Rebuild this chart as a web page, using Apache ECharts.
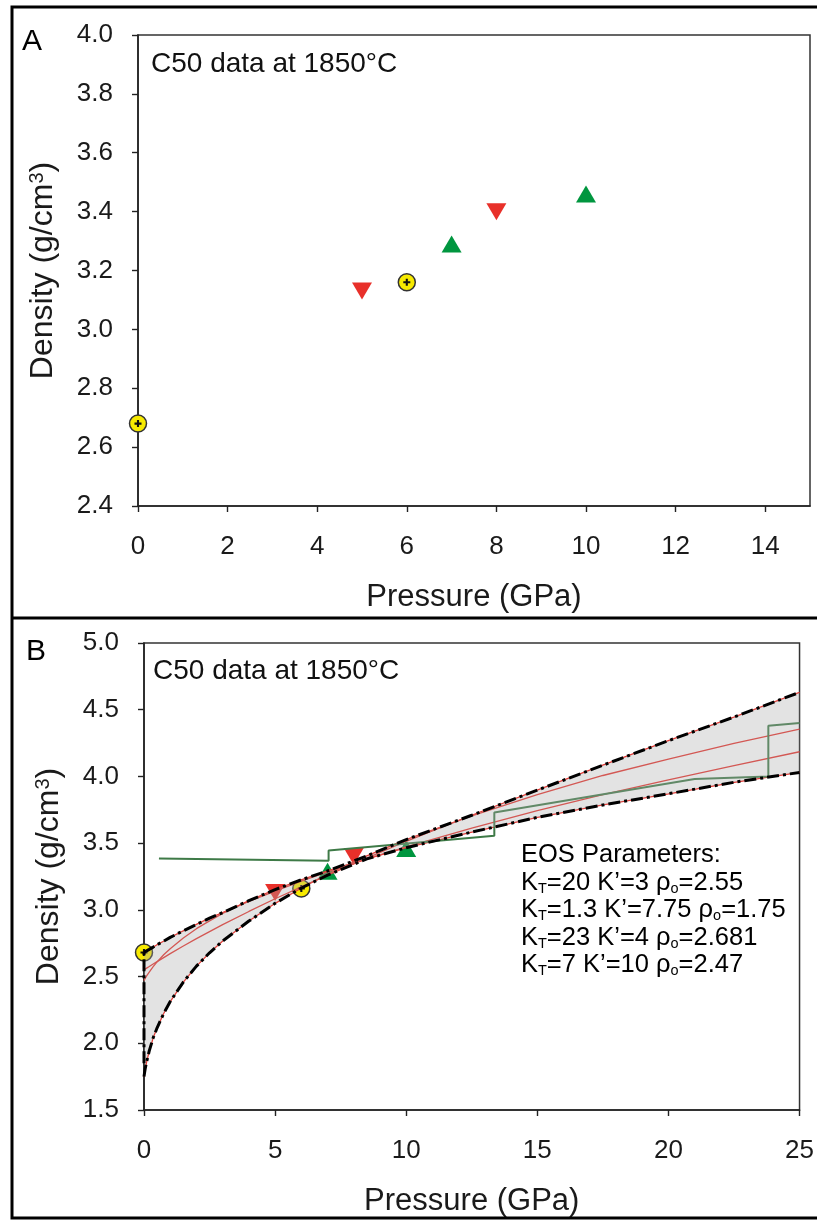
<!DOCTYPE html>
<html>
<head>
<meta charset="utf-8">
<script src="https://cdn.jsdelivr.net/npm/echarts@6/dist/echarts.min.js"></script>
<style>
  html, body { margin: 0; padding: 0; background: #fff; }
  #chart { width: 817px; height: 1220px; }
</style>
</head>
<body>
<div id="chart"></div>
<script>
// measured points (same data in both panels)
var circP = [0, 6];
var circRho = [2.68, 3.16];
var downP = [5, 8];
var downRho = [3.13, 3.40];
var upP = [7, 10];
var upRho = [3.29, 3.46];

// EOS curves
var eosP = [0, 0.02, 0.05, 0.1, 0.2, 0.35, 0.5, 0.75, 1, 1.5, 2, 2.5, 3, 4, 5, 6, 7, 8.5, 10, 12.5, 15, 17.5, 20, 22.5, 25];
var eosK20 = [2.55, 2.553, 2.556, 2.563, 2.575, 2.594, 2.612, 2.642, 2.672, 2.729, 2.784, 2.837, 2.889, 2.988, 3.083, 3.172, 3.260, 3.388, 3.514, 3.709, 3.897, 4.084, 4.268, 4.445, 4.63];
var eosK13 = [1.75, 1.777, 1.814, 1.861, 1.943, 2.041, 2.116, 2.223, 2.313, 2.459, 2.578, 2.678, 2.767, 2.916, 3.049, 3.164, 3.268, 3.404, 3.527, 3.705, 3.863, 4.007, 4.130, 4.248, 4.354];
var eosK23 = [2.681, 2.683, 2.687, 2.693, 2.704, 2.721, 2.739, 2.765, 2.794, 2.843, 2.891, 2.938, 2.979, 3.063, 3.141, 3.215, 3.284, 3.382, 3.472, 3.612, 3.744, 3.863, 3.974, 4.081, 4.185];
var eosK7 = [2.47, 2.477, 2.488, 2.505, 2.533, 2.574, 2.610, 2.664, 2.709, 2.789, 2.859, 2.917, 2.974, 3.069, 3.152, 3.225, 3.292, 3.383, 3.466, 3.583, 3.693, 3.786, 3.870, 3.956, 4.03];

// green step line
var stepP = [0.57, 7.04, 7.04, 13.36, 13.36, 21.0, 23.81, 23.81, 25];
var stepRho = [3.385, 3.368, 3.445, 3.555, 3.73, 3.98, 4.0, 4.38, 4.40];

var eosLines = [
  'EOS Parameters:',
  ['20', '3', '2.55'],
  ['1.3', '7.75', '1.75'],
  ['23', '4', '2.681'],
  ['7', '10', '2.47']
];

var FONT = 'Liberation Sans, Arial, sans-serif';
var YELLOW = '#f7ea00', RED = '#e8302a', GREEN = '#00963f';

function pair(xs, ys) {
  return xs.map(function (x, i) { return [x, ys[i]]; });
}

var upper = eosP.map(function (p, i) { return Math.max(eosK20[i], eosK13[i], eosK23[i], eosK7[i]); });
var lower = eosP.map(function (p, i) { return Math.min(eosK20[i], eosK13[i], eosK23[i], eosK7[i]); });

var myChart = echarts.init(document.getElementById('chart'));

function markers(ix) {
  return [
    {
      type: 'scatter', xAxisIndex: ix, yAxisIndex: ix, z: 2,
      data: pair(circP, circRho), symbol: 'circle', symbolSize: 17,
      itemStyle: { color: YELLOW, borderColor: '#333', borderWidth: 1.5, opacity: 1 }
    },
    {
      type: 'scatter', xAxisIndex: ix, yAxisIndex: ix, z: 2,
      data: pair(circP, circRho), symbol: 'path://M3.5,0H6.5V3.5H10V6.5H6.5V10H3.5V6.5H0V3.5H3.5Z', symbolSize: 7,
      itemStyle: { color: '#111', opacity: 1 }
    },
    {
      type: 'scatter', xAxisIndex: ix, yAxisIndex: ix, z: 2,
      data: pair(downP, downRho), symbol: 'triangle', symbolRotate: 180, symbolSize: [20, 17],
      itemStyle: { color: RED, opacity: 1 }
    },
    {
      type: 'scatter', xAxisIndex: ix, yAxisIndex: ix, z: 2,
      data: pair(upP, upRho), symbol: 'triangle', symbolSize: [20, 17],
      itemStyle: { color: GREEN, opacity: 1 }
    }
  ];
}

function curve(vals) {
  return {
    type: 'line', xAxisIndex: 1, yAxisIndex: 1, z: 3,
    data: pair(eosP, vals), showSymbol: false, symbol: 'none',
    lineStyle: { color: RED, width: 1.3 }
  };
}

var dashDot = { color: '#000', width: 3, type: [12, 4, 3, 4] };

var series = markers(0).concat(markers(1)).concat([
  curve(eosK20), curve(eosK13), curve(eosK23), curve(eosK7),
  {
    type: 'line', xAxisIndex: 1, yAxisIndex: 1, z: 3,
    data: pair(stepP, stepRho), symbol: 'none',
    lineStyle: { color: '#3e7a47', width: 2 }
  },
  {
    // grey band between the outer curves
    type: 'custom', xAxisIndex: 1, yAxisIndex: 1, z: 4,
    data: [[0, upper[0]]],
    renderItem: function (params, api) {
      var pts = [];
      for (var i = 0; i < eosP.length; i++) pts.push(api.coord([eosP[i], upper[i]]));
      for (var j = eosP.length - 1; j >= 0; j--) pts.push(api.coord([eosP[j], lower[j]]));
      return { type: 'polygon', shape: { points: pts }, style: { fill: 'rgba(170,170,170,0.33)' } };
    }
  },
  {
    type: 'line', xAxisIndex: 1, yAxisIndex: 1, z: 5,
    data: pair(eosP, upper), symbol: 'none',
    lineStyle: dashDot
  },
  {
    type: 'line', xAxisIndex: 1, yAxisIndex: 1, z: 5,
    data: pair(eosP, lower), symbol: 'none',
    lineStyle: dashDot
  },
  {
    type: 'line', xAxisIndex: 1, yAxisIndex: 1, z: 5,
    data: [[0, lower[0] + 0.1], [0, upper[0]]], symbol: 'none',
    lineStyle: dashDot
  }
]);

function xAxis(ix, max, step) {
  return {
    type: 'value', gridIndex: ix, min: 0, max: max, interval: step,
    name: 'Pressure (GPa)', nameLocation: 'middle', nameGap: 76,
    nameTextStyle: { fontFamily: FONT, fontSize: 31, color: '#1a1a1a' },
    axisLine: { lineStyle: { color: '#222', width: 1.6 } },
    axisTick: { length: 6, lineStyle: { color: '#222', width: 1.4 } },
    axisLabel: { margin: 28, fontFamily: FONT, fontSize: 26, color: '#1a1a1a', showMaxLabel: max === 25 },
    splitLine: { show: false }
  };
}

function yAxis(ix, min, max, step) {
  return {
    type: 'value', gridIndex: ix, min: min, max: max, interval: step,
    name: '{a|Density (g/cm}{b|3}{a|)}', nameLocation: 'middle', nameRotate: 90, nameGap: 79,
    nameTextStyle: {
      rich: {
        a: { fontFamily: FONT, fontSize: 32, color: '#1a1a1a' },
        b: { fontFamily: FONT, fontSize: 20, color: '#1a1a1a', verticalAlign: 'top' }
      }
    },
    axisLine: { lineStyle: { color: '#222', width: 1.6 } },
    axisTick: { length: 6, lineStyle: { color: '#222', width: 1.4 } },
    axisLabel: {
      margin: 25, fontFamily: FONT, fontSize: 26, color: '#1a1a1a',
      formatter: function (v) { return v.toFixed(1); }
    },
    splitLine: { show: false }
  };
}

var eosText = eosLines.map(function (l, i) {
  if (i === 0) return '{n|' + l + '}';
  return '{n|K}{s|T}{n|=' + l[0] + ' K\u2019=' + l[1] + ' \u03c1}{s|o}{n|=' + l[2] + '}';
}).join('\n');

var option = {
  animation: false,
  backgroundColor: '#fff',
  grid: [
    { left: 138, top: 35, right: 7, height: 471, show: true, borderColor: '#333', borderWidth: 1.5 },
    { left: 144, top: 643, right: 7, height: 467, show: true, borderColor: '#333', borderWidth: 1.5 }
  ],
  xAxis: [xAxis(0, 15, 2), xAxis(1, 25, 5)],
  yAxis: [yAxis(0, 2.4, 4.0, 0.2), yAxis(1, 1.5, 5.0, 0.5)],
  series: series,
  graphic: [
    { type: 'rect', silent: true, shape: { x: 12, y: 7, width: 830, height: 1211 },
      style: { fill: 'none', stroke: '#000', lineWidth: 3 }, z: 100 },
    { type: 'line', silent: true, shape: { x1: 12, y1: 618, x2: 817, y2: 618 },
      style: { stroke: '#000', lineWidth: 3 }, z: 100 },
    { type: 'text', left: 22, top: 27, style: { text: 'A', font: '30px ' + FONT, fill: '#000' } },
    { type: 'text', left: 26, top: 637, style: { text: 'B', font: '30px ' + FONT, fill: '#000' } },
    { type: 'text', left: 151, top: 50, style: { text: 'C50 data at 1850\u00b0C', font: '28px ' + FONT, fill: '#111' } },
    { type: 'text', left: 153, top: 657, style: { text: 'C50 data at 1850\u00b0C', font: '28px ' + FONT, fill: '#111' } },
    { type: 'text', left: 521, top: 842, z: 10, style: {
      text: eosText,
      rich: {
        n: { fontFamily: FONT, fontSize: 25.5, color: '#111', lineHeight: 27.5 },
        s: { fontFamily: FONT, fontSize: 14.5, color: '#111', verticalAlign: 'bottom', lineHeight: 20 }
      }
    } }
  ]
};
myChart.setOption(option);
</script>
</body>
</html>
